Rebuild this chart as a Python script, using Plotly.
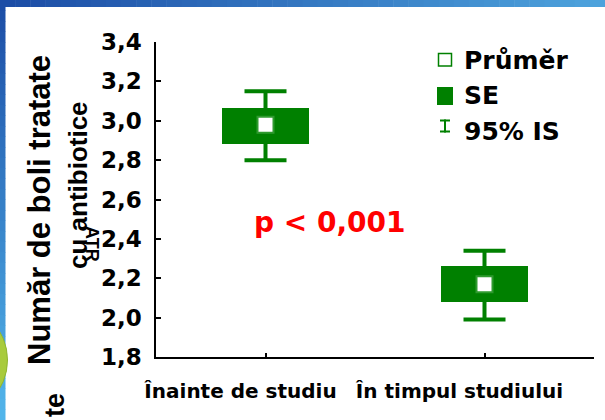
import plotly.graph_objects as go

# ---- data ----
categories = ["Înainte de studiu", "În timpul studiului"]
mean_vals = [2.98, 2.17]
se_low = [2.88, 2.08]
se_high = [3.065, 2.26]
ci_low = [2.80, 1.99]
ci_high = [3.15, 2.34]
y_ticks = [1.8, 2.0, 2.2, 2.4, 2.6, 2.8, 3.0, 3.2, 3.4]

GREEN = "#008000"
W, H = 605, 420
ML, MR, MT, MB = 156, 11, 42, 63
PW, PH = W - ML - MR, H - MT - MB


def px(x):
    return (x - ML) / PW


def py(y):
    return (H - MB - y) / PH


fig = go.Figure()

# SE boxes
fig.add_trace(go.Bar(
    x=categories,
    base=se_low,
    y=[h - l for h, l in zip(se_high, se_low)],
    width=0.4,
    marker=dict(color=GREEN, line=dict(width=0)),
    showlegend=False,
    hoverinfo="skip",
))

# mean + 95% CI whiskers
fig.add_trace(go.Scatter(
    x=categories,
    y=mean_vals,
    mode="markers",
    marker=dict(symbol="square", size=16, color="white",
                line=dict(color="#2f9a2f", width=2)),
    error_y=dict(type="data", symmetric=False,
                 array=[h - m for h, m in zip(ci_high, mean_vals)],
                 arrayminus=[m - l for m, l in zip(mean_vals, ci_low)],
                 color=GREEN, thickness=4, width=21),
    showlegend=False,
    hoverinfo="skip",
))

shapes = []
# slide decoration: gradient bands (stepped)
n = 40
c0 = (0x1c, 0x4d, 0xa6)
c1 = (0x4d, 0xa2, 0xdc)
c2 = (0x52, 0xb5, 0xea)
for i in range(n):
    t = i / (n - 1)
    col = "rgb(%d,%d,%d)" % tuple(round(a + (b - a) * t) for a, b in zip(c0, c2))
    shapes.append(dict(type="rect", xref="paper", yref="paper",
                       x0=px(0), x1=px(5.5), y0=py(H * i / n), y1=py(H * (i + 1) / n + 0.5),
                       fillcolor=col, line=dict(width=0), layer="above"))
for i in range(n):
    t = i / (n - 1)
    col = "rgb(%d,%d,%d)" % tuple(round(a + (b - a) * t) for a, b in zip(c0, c1))
    shapes.append(dict(type="rect", xref="paper", yref="paper",
                       x0=px(W * i / n), x1=px(W * (i + 1) / n + 0.5), y0=py(0), y1=py(7),
                       fillcolor=col, line=dict(width=0), layer="above"))
# green blob at left edge
shapes.append(dict(type="circle", xref="paper", yref="paper",
                   x0=px(-104), x1=px(7.5), y0=py(304), y1=py(416),
                   fillcolor="#a8cb3c", line=dict(color="#8fb530", width=1), layer="above"))

# custom legend symbols
shapes.append(dict(type="rect", xref="paper", yref="paper",
                   x0=px(438.5), x1=px(451.5), y0=py(53.5), y1=py(66),
                   fillcolor="white", line=dict(color=GREEN, width=1.5)))
shapes.append(dict(type="rect", xref="paper", yref="paper",
                   x0=px(437), x1=px(453), y0=py(87), y1=py(105),
                   fillcolor=GREEN, line=dict(width=0)))
for seg in [((445, 119.5), (445, 132.5)), ((440, 120.5), (450, 120.5)), ((440, 131.5), (450, 131.5))]:
    (xa, ya), (xb, yb) = seg
    shapes.append(dict(type="line", xref="paper", yref="paper",
                       x0=px(xa), x1=px(xb), y0=py(ya), y1=py(yb),
                       line=dict(color=GREEN, width=2)))

bold_dv = dict(family="DejaVu Sans", weight="bold", color="black")
bold_lib = dict(family="Liberation Sans", weight="bold", color="black")

annotations = []
for txt, yc in [("Průměr", 60), ("SE", 96), ("95% IS", 131)]:
    annotations.append(dict(text=txt, xref="paper", yref="paper", x=px(462), y=py(yc),
                            xanchor="left", yanchor="middle", showarrow=False,
                            font=dict(size=25, **bold_dv)))
annotations.append(dict(text="p < 0,001", xref="paper", yref="paper", x=px(330), y=py(222),
                        xanchor="center", yanchor="middle", showarrow=False,
                        font=dict(size=28, family="DejaVu Sans", weight="bold", color="#ff0000")))
annotations.append(dict(text="Număr de boli tratate", xref="paper", yref="paper",
                        x=px(39), y=py(210), textangle=-90, showarrow=False,
                        xanchor="center", yanchor="middle", font=dict(size=31, **bold_lib)))
annotations.append(dict(text="cu antibiotice", xref="paper", yref="paper",
                        x=px(78), y=py(185), textangle=-90, showarrow=False,
                        xanchor="center", yanchor="middle", font=dict(size=26, **bold_lib)))
annotations.append(dict(text="ATR", xref="paper", yref="paper",
                        x=px(92), y=py(244), textangle=90, showarrow=False,
                        xanchor="center", yanchor="middle", font=dict(size=18, **bold_lib)))
annotations.append(dict(text="te", xref="paper", yref="paper",
                        x=px(55), y=py(391), textangle=-90, showarrow=False,
                        xanchor="center", yanchor="top", font=dict(size=27, **bold_lib)))

fig.update_layout(
    width=W, height=H, autosize=False,
    margin=dict(l=ML, r=MR, t=MT, b=MB, pad=0),
    paper_bgcolor="white", plot_bgcolor="white",
    separators=", ",
    showlegend=False,
    bargap=0,
    hovermode=False,
    shapes=shapes,
    annotations=annotations,
    xaxis=dict(type="category", categoryorder="array", categoryarray=categories,
               range=[-0.5, 1.5], showgrid=False, zeroline=False,
               showline=True, linecolor="black", linewidth=1.5,
               ticks="inside", ticklen=4, tickwidth=1.5, tickcolor="black",
               tickfont=dict(size=20, **bold_dv),
               ticklabelstandoff=15, ticklabelshift=-25),
    yaxis=dict(range=[1.8, 3.4], tickvals=y_ticks, tickformat=".1f",
               showgrid=False, zeroline=False,
               showline=True, linecolor="black", linewidth=1.5,
               ticks="inside", ticklen=5, tickwidth=1.5, tickcolor="black",
               tickfont=dict(size=23, **bold_dv),
               ticklabelstandoff=8),
)

fig.write_html("out.html", config={"displayModeBar": False},
               post_script="document.body.style.margin='0';document.body.style.overflow='hidden';")
